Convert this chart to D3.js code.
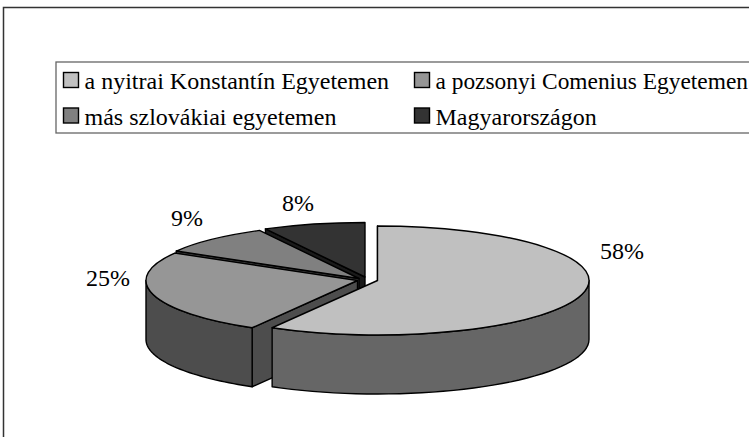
<!DOCTYPE html>
<html><head><meta charset="utf-8">
<script src="https://cdn.jsdelivr.net/npm/d3@7"></script>
<style>html,body{margin:0;padding:0;background:#fff}svg{display:block}text{font-family:"Liberation Serif","Times New Roman",serif;fill:#000}</style>
</head><body><svg id="c" width="749" height="437"></svg>
<script>
const categories=["a nyitrai Konstantín Egyetemen","a pozsonyi Comenius Egyetemen","más szlovákiai egyetemen","Magyarországon"];
const values=[58.3,25.1,8.8,7.8];
const labels=["58%","25%","9%","8%"];
const topColors=["#c0c0c0","#969696","#808080","#333333"];
const wallColors=["#666666","#4d4d4d","#404040","#1a1a1a"];
const centersX=[377.5,357.5,359,365];
const centersY=[280.5,280.5,278.5,277];
const labelPos=[[622,259],[108,286],[187,226],[298,211]];
const rx=211.5, ry=54.5, depth=59;

const svg=d3.select("#c");
svg.append("path").attr("d","M3.5 437V7.5H749").attr("fill","none").attr("stroke","#333").attr("stroke-width",1.5);

// legend
svg.append("rect").attr("x",56).attr("y",62).attr("width",710).attr("height",71).attr("fill","#fff").attr("stroke","#666").attr("stroke-width",1.3);
const legX=[63.5,414.5], legY=[72.5,108];
const legFont=[24,23.4,24,24];
categories.forEach((c,i)=>{
  const x=legX[i%2], y=legY[Math.floor(i/2)];
  svg.append("rect").attr("x",x).attr("y",y).attr("width",15).attr("height",15).attr("fill",topColors[i]).attr("stroke","#000").attr("stroke-width",1.4);
  svg.append("text").attr("x",x+21).attr("y",y+16.5).attr("font-size",legFont[i]).text(c);
});

// pie
const pie=d3.pie().value(d=>d).sort(null).startAngle(0).endAngle(2*Math.PI);
const arcs=pie(values);
const arc=d3.arc().innerRadius(0).outerRadius(rx);
const pt=(a,r=1)=>[r*rx*Math.sin(a),-r*ry*Math.cos(a)];
const line=d3.line();
const order=[3,2,1,0];
const sw=1.4;
order.forEach(i=>{
  const s=arcs[i];
  const g=svg.append("g").attr("transform",`translate(${centersX[i]},${centersY[i]})`);
  const p=pt(s.startAngle);
  g.append("path").attr("d",line([[0,0],p,[p[0],p[1]+depth],[0,depth]])+"Z")
   .attr("fill",wallColors[i]).attr("stroke","#000").attr("stroke-width",sw).attr("stroke-linejoin","round");
  const a0=Math.max(s.startAngle,Math.PI/2), a1=Math.min(s.endAngle,1.5*Math.PI);
  if(a1>a0){
    const as=d3.range(0,41).map(k=>a0+(a1-a0)*k/40);
    const up=as.map(a=>pt(a));
    const down=as.slice().reverse().map(a=>{const q=pt(a);return [q[0],q[1]+depth]});
    g.append("path").attr("d",line(up.concat(down))+"Z").attr("fill",wallColors[i]).attr("stroke","#000").attr("stroke-width",sw).attr("stroke-linejoin","round");
  }
  g.append("path").attr("d",arc(s)).attr("transform",`scale(1,${ry/rx})`)
   .attr("fill",topColors[i]).attr("stroke","#000").attr("stroke-width",sw).attr("vector-effect","non-scaling-stroke").attr("stroke-linejoin","round");
});
labels.forEach((t,i)=>{
  svg.append("text").attr("x",labelPos[i][0]).attr("y",labelPos[i][1]).attr("text-anchor","middle").attr("font-size",24).text(t);
});
</script></body></html>
